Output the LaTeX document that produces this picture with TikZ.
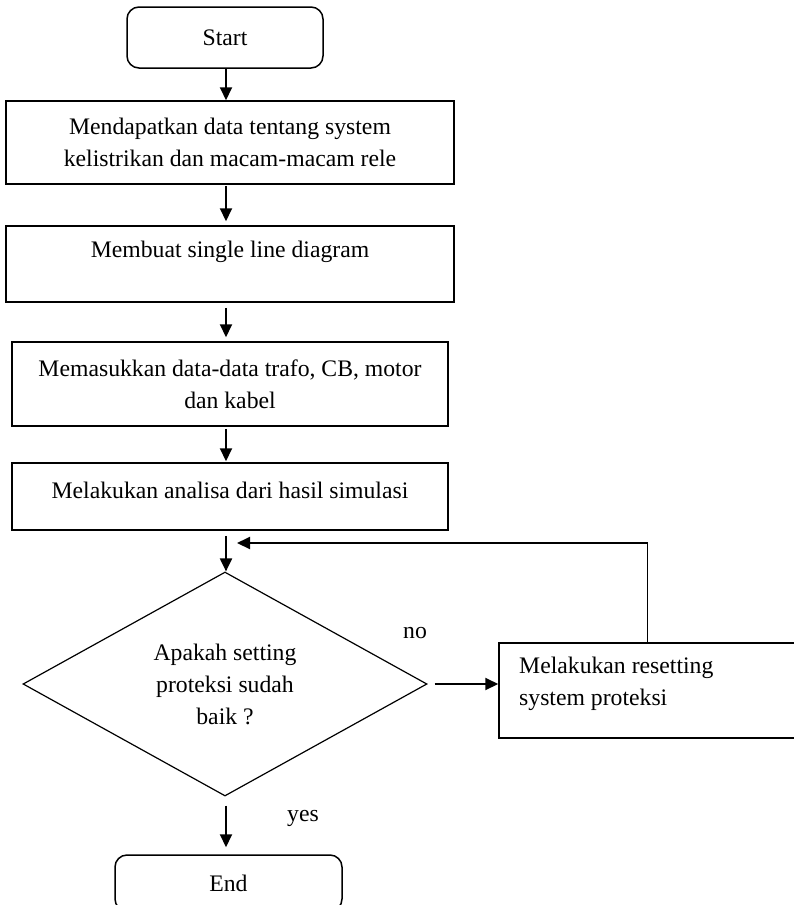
\documentclass[tikz,border=0pt]{standalone}
\usepackage{fontspec}
\setmainfont{Liberation Serif}
\usetikzlibrary{shapes.geometric,arrows.meta,calc}
\begin{document}
\begin{tikzpicture}[x=1pt,y=-1pt,
  font=\fontsize{23.7}{32}\selectfont,
  box/.style={draw,line width=1.5pt,inner sep=0pt},
  rbox/.style={box,rounded corners=12pt},
  arr/.style={line width=2pt,-{Triangle[length=13pt,width=12pt]}},
  fbline/.style={line width=1.5pt},
  txt/.style={inner sep=0pt,align=center}]
\useasboundingbox (0,0) rectangle (793,905);

\node[rbox,minimum width=196pt,minimum height=61pt] (start) at (225,37.5) {Start};
\node[box,minimum width=448pt,minimum height=83pt,align=center] (b1) at (230,142.5)
  {Mendapatkan data tentang system\\kelistrikan dan macam-macam rele};
\node[box,minimum width=448pt,minimum height=76pt] (b2) at (230,264) {};
\node[txt] (b2t) at (230,252) {Membuat single line diagram};
\node[box,minimum width=436pt,minimum height=84pt,align=center] (b3) at (230,384)
  {Memasukkan data-data trafo, CB, motor\\dan kabel};
\node[box,minimum width=436pt,minimum height=67pt] (b4) at (230,496.5) {};
\node[txt] (b4t) at (230,490) {Melakukan analisa dari hasil simulasi};
\node[diamond,draw,line width=1.2pt,minimum width=404pt,minimum height=224pt,
  inner sep=0pt,align=center] (d) at (225,684) {Apakah setting\\proteksi sudah\\baik ?};
\node[box,minimum width=297pt,minimum height=95pt] (reset) at (647.5,690.5) {};
\node[txt,anchor=west,align=left] (resett) at (519,684) {Melakukan resetting\\system proteksi};
\node[rbox,minimum width=227pt,minimum height=56pt] (end) at (228.5,883) {End};
\node[txt] (no) at (415,633) {no};
\node[txt] (yes) at (303,818) {yes};

\coordinate (ax) at (226,0);
\coordinate (fb) at (237,543);

\draw[arr] (start.south -| ax) -- (b1.north -| ax);
\draw[arr] ($(b1.south -| ax)+(0,1)$) -- ($(b2.north -| ax)+(0,-4)$);
\draw[arr] ($(b2.south -| ax)+(0,5)$) -- ($(b3.north -| ax)+(0,-4)$);
\draw[arr] ($(b3.south -| ax)+(0,2)$) -- ($(b4.north -| ax)+(0,-1)$);
\draw[arr] ($(b4.south -| ax)+(0,5)$) -- (d.north -| ax);
\draw[arr] ($(d.east)+(7,0)$) -- (reset.west |- d.east);
\draw[fbline] (reset.north) -- (reset.north |- fb);
\draw[arr] (reset.north |- fb) -- (fb);
\draw[arr] ($(d.south -| ax)+(9,9)$) ++(-9,0) -- ($(end.north -| ax)+(0,-7)$);
\end{tikzpicture}
\end{document}
